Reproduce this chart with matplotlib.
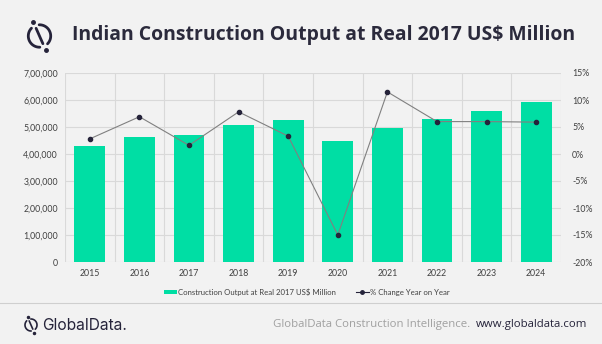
import matplotlib
matplotlib.use("Agg")
import matplotlib.pyplot as plt
from matplotlib.lines import Line2D
import numpy as np

years = ["2015", "2016", "2017", "2018", "2019", "2020", "2021", "2022", "2023", "2024"]
output = [430000, 462000, 469000, 506000, 525000, 447000, 497000, 528000, 560000, 594000]
pct_change = [2.8, 6.9, 1.6, 7.8, 3.3, -15.0, 11.5, 6.0, 6.0, 5.9]
left_ticks = [0, 100000, 200000, 300000, 400000, 500000, 600000, 700000]
left_labels = ["0", "1,00,000", "2,00,000", "3,00,000", "4,00,000", "5,00,000", "6,00,000", "7,00,000"]
right_ticks = [-20, -15, -10, -5, 0, 5, 10, 15]
right_labels = ["-20%", "-15%", "-10%", "-5%", "0%", "5%", "10%", "15%"]

BG = "#f2f2f2"
GREEN = "#00dea4"
NAVY = "#25233a"
GRID = "#d9d9d9"
TXT = "#404040"
FONT = "Open Sans"
SMALL = "Lato"

W, H = 602, 344
fig = plt.figure(figsize=(W / 100, H / 100), dpi=100, facecolor=BG)
renderer = fig.canvas.get_renderer()

def fy(y):
    return (H - y) / H

ax = fig.add_axes([65 / W, fy(262), (561 - 65) / W, 189 / H])
ax.set_facecolor(BG)
x = np.arange(len(years))
ax.bar(x, output, width=0.62, color=GREEN, zorder=2, label="Construction Output at Real 2017 US$ Million")
ax.set_xlim(-0.5, len(years) - 0.5)
ax.set_ylim(0, 700000)
ax.set_yticks(left_ticks)
ax.set_yticklabels(left_labels, fontsize=6.3, color=TXT, family=SMALL)
ax.set_xticks(x)
ax.set_xticklabels(years, fontsize=6.3, color=TXT, family=SMALL)
ax.tick_params(length=0, pad=5)
ax.grid(axis="y", color=GRID, linewidth=0.8, zorder=0)
for b in np.arange(-0.5, len(years), 1.0):
    ax.axvline(b, color=GRID, linewidth=0.8, zorder=0)
for s in ax.spines.values():
    s.set_visible(False)

ax2 = ax.twinx()
ax2.plot(x, pct_change, color="#808080", linewidth=0.8, marker="o", markersize=3,
         markerfacecolor=NAVY, markeredgecolor=NAVY, zorder=3)
ax2.set_ylim(-20, 15)
ax2.set_yticks(right_ticks)
ax2.set_yticklabels(right_labels, fontsize=6.3, color=TXT, family=SMALL)
ax2.tick_params(length=0, pad=8)
for s in ax2.spines.values():
    s.set_visible(False)

# legend
h1, l1 = ax.get_legend_handles_labels()
lh = Line2D([0], [0], color=NAVY, linewidth=0.8, marker="o", markersize=2.5)
fig.legend([h1[0], lh], [l1[0], "% Change Year on Year"], loc="center",
           bbox_to_anchor=(307 / W, fy(292)), ncol=2, frameon=False,
           prop={"family": SMALL, "size": 5.6}, handlelength=1.6, handleheight=0.6,
           columnspacing=2.6, handletextpad=0.2, labelcolor=TXT)

def fit_text(xl, xr, y, s, size, **kw):
    t = fig.text(xl / W, fy(y), s, fontsize=size, va="center", ha="left", **kw)
    w = t.get_window_extent(renderer).width
    t.set_fontsize(size * (xr - xl) / w)
    return t

# title
fit_text(72, 577, 35, "Indian Construction Output at Real 2017 US$ Million", 14,
         fontweight="bold", color="#2b2a3c", family=FONT)

# logo icon (drawn in pixel coordinates, y down)
lax = fig.add_axes([0, 0, 1, 1], facecolor="none")
lax.set_xlim(0, W)
lax.set_ylim(H, 0)
lax.axis("off")

def logo(cx, cy, r, lw, gap=22):
    dx, dy = 13.0, 29.5
    n = np.hypot(dx, dy)
    ux, uy = dx / n, dy / n
    ang_top = np.degrees(np.arctan2(uy, -ux))
    for a0 in (ang_top, ang_top + 180):
        t = np.radians(np.linspace(a0 + gap, a0 + 180 - gap, 80))
        lax.plot(cx + r * np.cos(t), cy - r * np.sin(t), color=NAVY, lw=lw,
                 solid_capstyle="round")
    lax.plot([cx - 0.75 * r * ux, cx + 0.75 * r * ux],
             [cy - 0.75 * r * uy, cy + 0.75 * r * uy], color=NAVY, lw=lw,
             solid_capstyle="round")
    lax.plot([cx - 1.38 * r * ux, cx + 1.38 * r * ux],
             [cy - 1.38 * r * uy, cy + 1.38 * r * uy], "o", color=NAVY,
             markersize=lw * 1.25)

logo(39.5, 36, 11.2, 2.0)
logo(31, 325, 6.0, 1.2)

# footer separator
fig.add_artist(Line2D([0, 1], [fy(303), fy(303)], color="#cfcfcf", linewidth=0.8))
fit_text(42, 126, 325, "GlobalData.", 10.5, color=NAVY, family="Inter")
fit_text(273, 472, 325, "GlobalData Construction Intelligence.", 9,
         color="#a0a0a0", family=FONT)
fit_text(476, 587, 325, "www.globaldata.com", 9, color=NAVY, family=FONT)

fig.savefig("out.png", dpi=100, facecolor=BG)
